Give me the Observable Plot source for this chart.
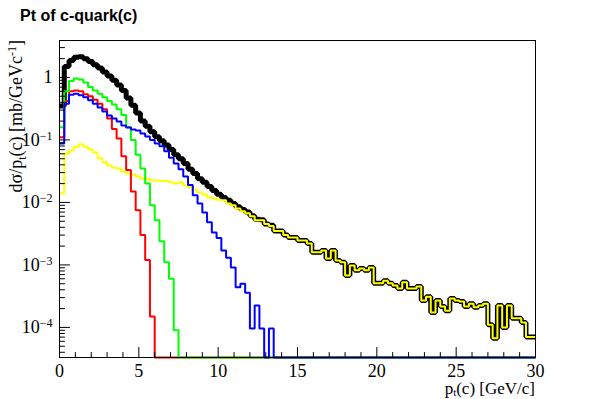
<!DOCTYPE html>
<html><head><meta charset="utf-8">
<script src="https://cdn.jsdelivr.net/npm/d3@7"></script>
<script src="https://cdn.jsdelivr.net/npm/@observablehq/plot@0.6"></script>
<style>body{margin:0;background:#fff}#chart{width:595px;height:399px}</style>
</head><body><div id="chart"></div>
<script>
// histogram binning: 100 bins from 0 to 30 GeV/c
const binLow = 0, binWidth = 0.3;
const xMajorTicks = [0, 5, 10, 15, 20, 25, 30];
const yMajorTicks = [1e-4, 1e-3, 1e-2, 1e-1, 1];
const yLabels = ["10^-4", "10^-3", "10^-2", "10^-1", "1"];

// black: total
const totalC = [0.35,1.5,1.87,2.1,2.15,2.0,1.8,1.6,1.42,1.22,
1.05,0.9,0.76,0.62,0.47,0.36,0.27,0.2,0.165,0.135,
0.112,0.097,0.083,0.07,0.058,0.05,0.042,0.034,0.029,0.024,
0.021,0.018,0.0155,0.0135,0.012,0.0108,0.0096,0.0085,0.0077,0.007,
0.0061,0.0054,0.0053,0.0045,0.0043,0.0035,0.0035,0.003,0.00275,0.00275,
0.00247,0.00247,0.0022,0.0016,0.0016,0.0017,0.00127,0.0017,0.00118,0.0011,
0.00068,0.00098,0.00082,0.00088,0.00082,0.00091,0.00051,0.00051,0.00056,0.00051,
0.00047,0.00042,0.00053,0.00042,0.00042,0.00045,0.00027,0.00031,0.000174,0.00027,
0.000217,0.000185,0.00029,0.00027,0.00026,0.000217,0.00024,0.00021,0.000225,0.00024,
0.00011,0.000067,0.000225,0.0001,0.000225,0.00014,0.00014,0.00012,0.00007,0.00007];

// yellow
const yellowC = [0.014,0.06,0.068,0.078,0.085,0.078,0.07,0.063,0.051,0.044,
0.039,0.036,0.035,0.031,0.029,0.028,0.026,0.024,0.024,0.0225,
0.0225,0.022,0.022,0.021,0.02,0.021,0.0187,0.0175,0.016,0.0145,
0.0135,0.012,0.0116,0.011,0.0108,0.0096,0.009,0.008,0.0072,0.0067,
0.006,0.0052,0.0052,0.0045,0.0042,0.0035,0.0035,0.003,0.00275,0.00275,
0.00247,0.00247,0.0022,0.0016,0.0016,0.0017,0.00127,0.0017,0.00118,0.0011,
0.00068,0.00098,0.00082,0.00088,0.00082,0.00091,0.00051,0.00051,0.00056,0.00051,
0.00047,0.00042,0.00053,0.00042,0.00042,0.00045,0.00027,0.00031,0.000174,0.00027,
0.000217,0.000185,0.00029,0.00027,0.00026,0.000217,0.00024,0.00021,0.000225,0.00024,
0.00011,0.000067,0.000225,0.0001,0.000225,0.00014,0.00014,0.00012,0.00007,0.00007];

// red
const redC = [0.11,0.42,0.6,0.62,0.6,0.54,0.5,0.44,0.38,0.31,
0.22,0.15,0.105,0.055,0.033,0.015,0.0075,0.003,0.0012,0.00015,
0,0,0,0,0,0,0,0,0,0, 0,0,0,0,0,0,0,0,0,0,
0,0,0,0,0,0,0,0,0,0, 0,0,0,0,0,0,0,0,0,0,
0,0,0,0,0,0,0,0,0,0, 0,0,0,0,0,0,0,0,0,0,
0,0,0,0,0,0,0,0,0,0, 0,0,0,0,0,0,0,0,0,0];

// green
const greenC = [0.16,0.6,0.88,0.96,0.93,0.83,0.7,0.62,0.55,0.48,
0.42,0.37,0.31,0.25,0.16,0.1,0.058,0.035,0.02,0.009,
0.0052,0.0024,0.0011,0.0006,0.00009,0,0,0,0,0,
0,0,0,0,0,0,0,0,0,0, 0,0,0,0,0,0,0,0,0,0,
0,0,0,0,0,0,0,0,0,0, 0,0,0,0,0,0,0,0,0,0,
0,0,0,0,0,0,0,0,0,0, 0,0,0,0,0,0,0,0,0,0,
0,0,0,0,0,0,0,0,0,0];

// blue
const blueC = [0.088,0.38,0.53,0.55,0.52,0.48,0.43,0.38,0.33,0.285,
0.247,0.22,0.197,0.17,0.158,0.147,0.142,0.127,0.114,0.1,
0.088,0.079,0.066,0.052,0.042,0.034,0.026,0.019,0.013,0.0096,
0.0069,0.0048,0.0033,0.0027,0.0017,0.0013,0.00091,0.00044,0.0005,0.00036,
0.000096,0.000225,0.000096,0,0.000096,0,0,0,0,0,
0,0,0,0,0,0,0,0,0,0, 0,0,0,0,0,0,0,0,0,0,
0,0,0,0,0,0,0,0,0,0, 0,0,0,0,0,0,0,0,0,0,
0,0,0,0,0,0,0,0,0,0];

const yMin = 3.3e-5, yMax = 3.9;
const xMin = 0, xMax = 30;

function steps(values) {
  const pts = [];
  values.forEach((v, i) => {
    const y = v > 0 ? v : yMin; // empty bins sit on the frame bottom (ROOT log style)
    pts.push({x: binLow + i * binWidth, y});
    pts.push({x: binLow + (i + 1) * binWidth, y});
  });
  return pts;
}

const xMinorTicks = d3.range(0, 31, 1).filter(d => d % 5 !== 0);
const yMinorTicks = [];
for (let e = -5; e <= 0; e++) for (let m = 2; m <= 9; m++) {
  const v = m * Math.pow(10, e);
  if (v > yMin && v < yMax) yMinorTicks.push(v);
}

const tickRight = {draw(ctx, l) { ctx.moveTo(0, 0); ctx.lineTo(l, 0); }};
const tickUp = {draw(ctx, l) { ctx.moveTo(0, 0); ctx.lineTo(0, -l); }};

const lineOpts = {x: "x", y: "y", strokeLinejoin: "miter", strokeLinecap: "butt"};

const plot = Plot.plot({
  width: 595, height: 399,
  marginLeft: 59, marginRight: 60, marginTop: 40, marginBottom: 42,
  style: {fontFamily: "'Liberation Serif', 'Times New Roman', serif", fontSize: "18px", color: "#000", background: "#fff"},
  x: {domain: [xMin, xMax], label: null},
  y: {type: "log", domain: [yMin, yMax], label: null},
  marks: [
    Plot.axisX({ticks: xMajorTicks, tickSize: 0, tickPadding: 7, tickFormat: d => String(d), fontSize: 18, label: null}),
    Plot.axisY({ticks: yMajorTicks, tickSize: 0, tickPadding: 7, fontSize: 18, label: null,
      tickFormat: d => yLabels[yMajorTicks.indexOf(d)]}),
    Plot.line(steps(totalC), {...lineOpts, stroke: "#000", strokeWidth: 5}),
    Plot.line(steps(yellowC), {...lineOpts, stroke: "#ffff00", strokeWidth: 2}),
    Plot.line(steps(redC), {...lineOpts, stroke: "#ff0000", strokeWidth: 2}),
    Plot.line(steps(greenC), {...lineOpts, stroke: "#00ff00", strokeWidth: 2}),
    Plot.line(steps(blueC), {...lineOpts, stroke: "#0000ff", strokeWidth: 2}),
    Plot.vector(xMajorTicks, {x: d => d, frameAnchor: "bottom", length: 10, anchor: "start", shape: tickUp, stroke: "#000", strokeWidth: 1}),
    Plot.vector(xMinorTicks, {x: d => d, frameAnchor: "bottom", length: 5, anchor: "start", shape: tickUp, stroke: "#000", strokeWidth: 1}),
    Plot.vector(yMajorTicks, {y: d => d, frameAnchor: "left", length: 10, anchor: "start", shape: tickRight, stroke: "#000", strokeWidth: 1}),
    Plot.vector(yMinorTicks, {y: d => d, frameAnchor: "left", length: 5, anchor: "start", shape: tickRight, stroke: "#000", strokeWidth: 1}),
    Plot.frame({stroke: "#000", strokeWidth: 1})
  ]
});

document.getElementById("chart").appendChild(plot);
const svg = d3.select(plot);

// superscript exponents in y tick labels
svg.selectAll('g[aria-label="y-axis tick label"] text').each(function() {
  const m = this.textContent.match(/^10\^(-?\d+)$/);
  if (m) {
    this.textContent = "10";
    d3.select(this).append("tspan").attr("dy", "-0.5em").attr("font-size", "12px").text(m[1].replace("-", "\u2212"));
  }
});

// histogram title
svg.append("text").attr("x", 20).attr("y", 21).attr("text-anchor", "start")
  .attr("font-family", "'Liberation Sans', Arial, sans-serif").attr("font-weight", "bold").attr("font-size", 16)
  .attr("fill", "#000").text("Pt of c-quark(c)");

// x axis title
const xt = svg.append("text").attr("x", 535).attr("y", 394).attr("text-anchor", "end")
  .attr("font-family", "'Liberation Serif', serif").attr("font-size", 17).attr("fill", "#000");
xt.append("tspan").text("p");
xt.append("tspan").attr("dy", "0.2em").attr("font-size", 11).text("t");
xt.append("tspan").attr("dy", "-0.12em").text("(c) [GeV/c]");

// y axis title
const yt = svg.append("text").attr("transform", "translate(22,40) rotate(-90)").attr("text-anchor", "end")
  .attr("font-family", "'Liberation Serif', serif").attr("font-size", 18).attr("fill", "#000");
yt.append("tspan").text("d\u03c3/p");
yt.append("tspan").attr("dy", "0.35em").attr("font-size", 12).text("t");
yt.append("tspan").attr("dy", "-0.23em").text("(c) [mb/GeVc");
yt.append("tspan").attr("dy", "-0.5em").attr("font-size", 12).text("-1");
yt.append("tspan").attr("dy", "0.33em").text("]");
</script>
</body></html>
